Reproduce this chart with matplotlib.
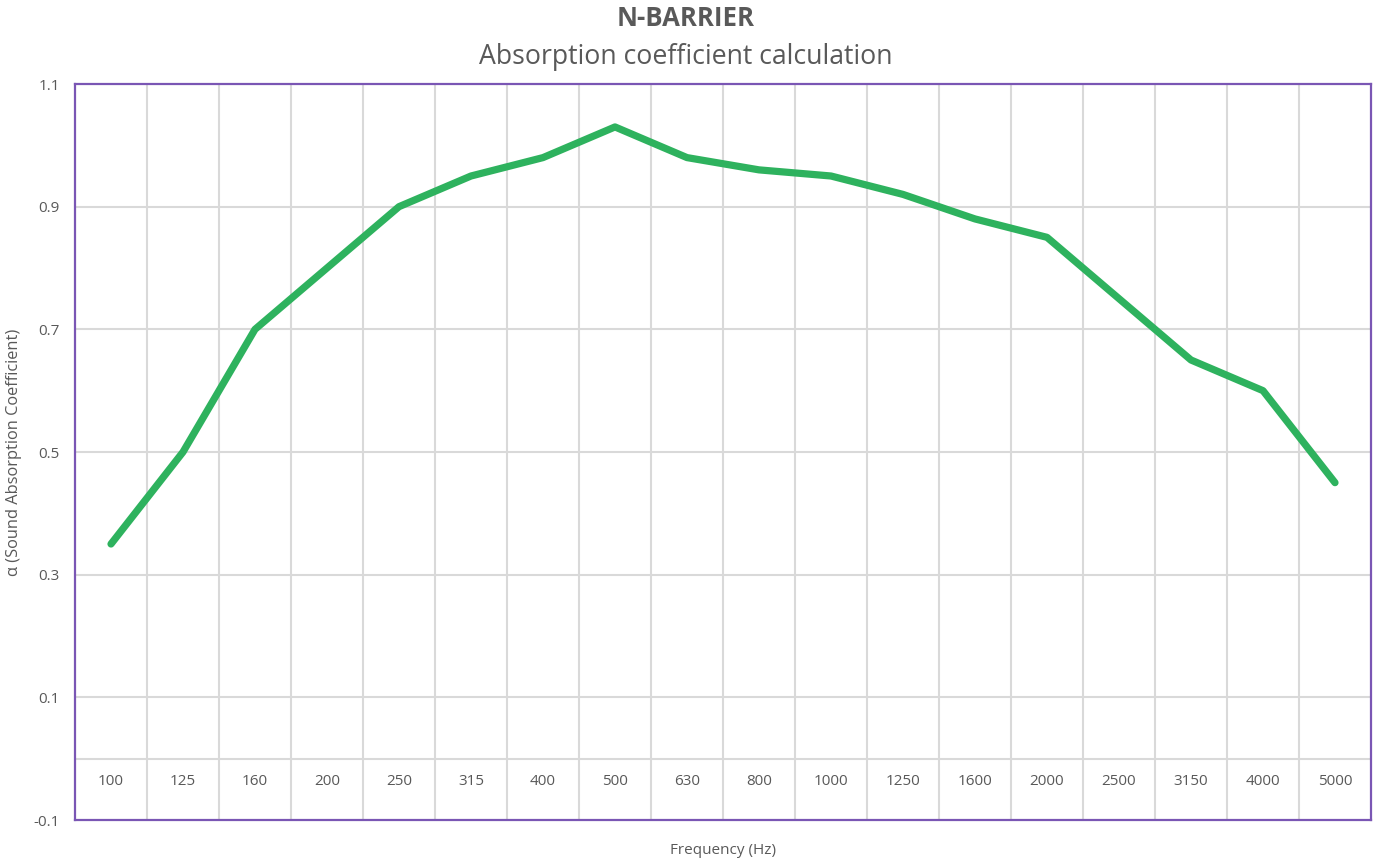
import matplotlib
matplotlib.use("Agg")
import matplotlib.pyplot as plt

frequencies = ["100", "125", "160", "200", "250", "315", "400", "500", "630",
               "800", "1000", "1250", "1600", "2000", "2500", "3150", "4000", "5000"]
alpha = [0.35, 0.50, 0.70, 0.80, 0.90, 0.95, 0.98, 1.03, 0.98,
         0.96, 0.95, 0.92, 0.88, 0.85, 0.75, 0.65, 0.60, 0.45]
y_ticks = [-0.1, 0.1, 0.3, 0.5, 0.7, 0.9, 1.1]

plt.rcParams['font.family'] = ['Open Sans', 'DejaVu Sans']
TXT = '#595959'
GRID = '#D9D9D9'
BORDER = '#7A56B4'

W, H = 1377, 860
fig = plt.figure(figsize=(W / 100, H / 100), dpi=100)
ax = fig.add_axes([75 / W, (H - 820) / H, 1296 / W, 736 / H])

n = len(frequencies)
x = list(range(n))
ax.set_xlim(-0.5, n - 0.5)
ax.set_ylim(-0.1, 1.1)

# grid
for k in range(1, n):
    ax.axvline(k - 0.5, color=GRID, lw=1.5, zorder=1)
for yv in y_ticks[1:-1]:
    ax.axhline(yv, color=GRID, lw=1.5, zorder=1)
ax.axhline(0, color=GRID, lw=1.5, zorder=1)

ax.plot(x, alpha, color='#2EB25E', lw=5.2, solid_capstyle='round',
        solid_joinstyle='round', zorder=3)

ax.set_xticks([])
ax.set_yticks(y_ticks)
ax.set_yticklabels([f"{v:g}" for v in y_ticks], color=TXT, fontsize=11)
ax.tick_params(axis='y', length=0, pad=11)

for i, lab in enumerate(frequencies):
    ax.text(i, -0.037, lab, ha='center', va='center', color=TXT, fontsize=11)

for s in ax.spines.values():
    s.set_color(BORDER)
    s.set_linewidth(1.6)
    s.set_zorder(4)

fig.text(0.5 * (75 + 1371) / W, 1 - 850 / H, "Frequency (Hz)", ha='center',
         va='center', color=TXT, fontsize=11)
fig.text(14 / W, 1 - 452 / H, "α (Sound Absorption Coefficient)", ha='center',
         va='center', rotation=90, color=TXT, fontsize=11.8)
fig.text(686 / W, 1 - 19 / H, "N-BARRIER", ha='center', va='center',
         color=TXT, fontsize=18.5, fontweight='bold')
fig.text(686 / W, 1 - 57 / H, "Absorption coefficient calculation", ha='center',
         va='center', color=TXT, fontsize=19.2)

fig.savefig("out.png", dpi=100)
